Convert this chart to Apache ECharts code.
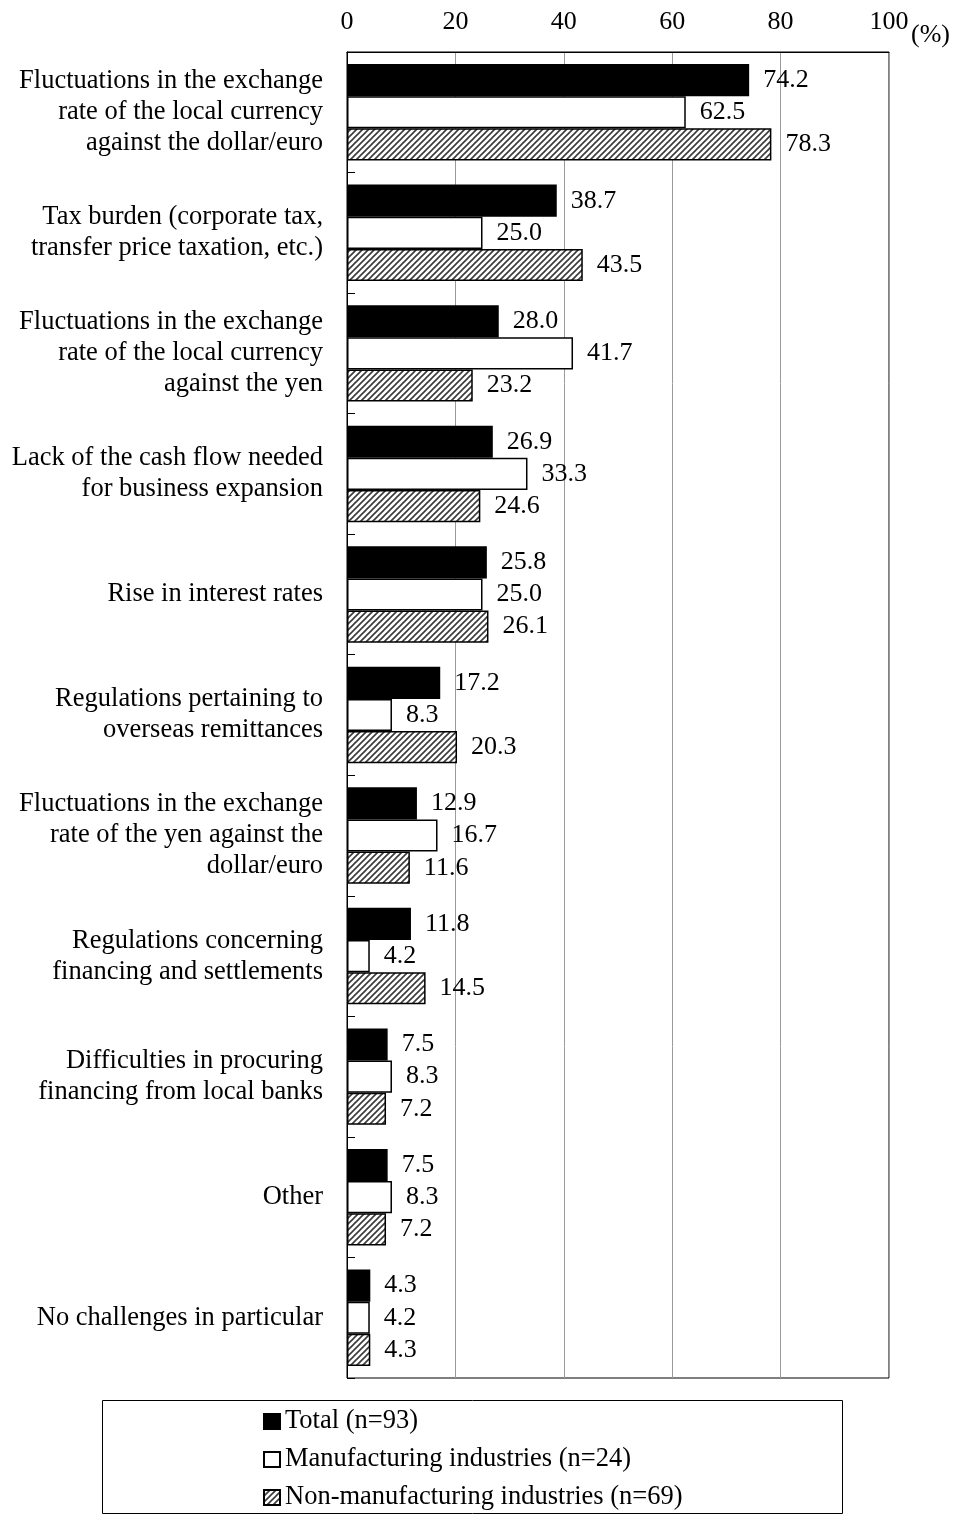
<!DOCTYPE html>
<html>
<head>
<meta charset="utf-8">
<script src="https://cdn.jsdelivr.net/npm/echarts@6/dist/echarts.min.js"></script>
<style>
html,body{margin:0;padding:0;background:#fff;}
#chart{width:957px;height:1519px;}
</style>
</head>
<body>
<div id="chart"></div>
<script>
var categories = [
  'Fluctuations in the exchange\nrate of the local currency\nagainst the dollar/euro',
  'Tax burden (corporate tax,\ntransfer price taxation, etc.)',
  'Fluctuations in the exchange\nrate of the local currency\nagainst the yen',
  'Lack of the cash flow needed\nfor business expansion',
  'Rise in interest rates',
  'Regulations pertaining to\noverseas remittances',
  'Fluctuations in the exchange\nrate of the yen against the\ndollar/euro',
  'Regulations concerning\nfinancing and settlements',
  'Difficulties in procuring\nfinancing from local banks',
  'Other',
  'No challenges in particular'
];
var seriesNames = ['Total (n=93)', 'Manufacturing industries (n=24)', 'Non-manufacturing industries (n=69)'];
var totalValues = [74.2, 38.7, 28.0, 26.9, 25.8, 17.2, 12.9, 11.8, 7.5, 7.5, 4.3];
var manufacturingValues = [62.5, 25.0, 41.7, 33.3, 25.0, 8.3, 16.7, 4.2, 8.3, 8.3, 4.2];
var nonManufacturingValues = [78.3, 43.5, 23.2, 24.6, 26.1, 20.3, 11.6, 14.5, 7.2, 7.2, 4.3];
var xTicks = [0, 20, 40, 60, 80, 100];

var FONT = '"Liberation Serif", "Times New Roman", serif';

// hatch pattern
var pc = document.createElement('canvas');
pc.width = 6; pc.height = 6;
var ctx = pc.getContext('2d');
ctx.fillStyle = '#fff';
ctx.fillRect(0, 0, 6, 6);
ctx.strokeStyle = '#3a3a3a';
ctx.lineWidth = 1.6;
ctx.beginPath();
ctx.moveTo(-1, 7); ctx.lineTo(7, -1);
ctx.moveTo(-4, 4); ctx.lineTo(4, -4);
ctx.moveTo(2, 10); ctx.lineTo(10, 2);
ctx.stroke();
var hatch = { image: pc, repeat: 'repeat' };

var chart = echarts.init(document.getElementById('chart'));

function labelCfg() {
  return {
    show: true,
    position: 'right',
    distance: 14,
    color: '#000',
    fontFamily: FONT,
    fontSize: 26,
    formatter: function (p) { return p.value.toFixed(1); }
  };
}

var option = {
  animation: false,
  backgroundColor: '#fff',
  grid: {
    left: 347, right: 68, top: 52, bottom: 141,
    show: true, borderColor: '#000', borderWidth: 1, backgroundColor: 'transparent'
  },
  xAxis: {
    type: 'value',
    position: 'top',
    min: 0, max: 100, interval: 20,
    axisLine: { show: true, lineStyle: { color: '#000', width: 1 } },
    axisTick: { show: false },
    splitLine: { show: true, lineStyle: { color: '#9a9a9a', width: 1 } },
    axisLabel: {
      color: '#000', fontFamily: FONT, fontSize: 26, margin: 17,
      formatter: function (v) { return xTicks.indexOf(v) >= 0 ? String(v) : ''; }
    }
  },
  yAxis: {
    type: 'category',
    inverse: true,
    data: categories,
    axisLine: { show: true, lineStyle: { color: '#000', width: 1 } },
    axisTick: { show: true, inside: true, length: 8, lineStyle: { color: '#000' } },
    axisLabel: {
      color: '#000', fontFamily: FONT, fontSize: 26.5, lineHeight: 31,
      margin: 24, align: 'right'
    }
  },
  legend: {
    orient: 'vertical',
    left: 258, top: 1403,
    itemWidth: 16, itemHeight: 15, itemGap: 11,
    icon: 'rect',
    textStyle: { color: '#000', fontFamily: FONT, fontSize: 26.5 },
    data: seriesNames
  },
  graphic: [
    { type: 'rect', shape: { x: 102.5, y: 1400.5, width: 740, height: 113 },
      style: { fill: 'none', stroke: '#000', lineWidth: 1 }, silent: true },
    { type: 'text', left: 911, top: 22,
      style: { text: '(%)', fill: '#000', font: '26px ' + FONT } }
  ],
  series: [
    {
      name: seriesNames[0], type: 'bar', data: totalValues,
      barGap: '0%', barCategoryGap: '20%',
      itemStyle: { color: '#000', borderColor: '#000', borderWidth: 1.5 },
      label: labelCfg()
    },
    {
      name: seriesNames[1], type: 'bar', data: manufacturingValues,
      barGap: '0%', barCategoryGap: '20%',
      itemStyle: { color: '#fff', borderColor: '#000', borderWidth: 1.5 },
      label: labelCfg()
    },
    {
      name: seriesNames[2], type: 'bar', data: nonManufacturingValues,
      barGap: '0%', barCategoryGap: '20%',
      itemStyle: { color: hatch, borderColor: '#000', borderWidth: 1.5 },
      label: labelCfg()
    }
  ]
};
chart.setOption(option);
</script>
</body>
</html>
